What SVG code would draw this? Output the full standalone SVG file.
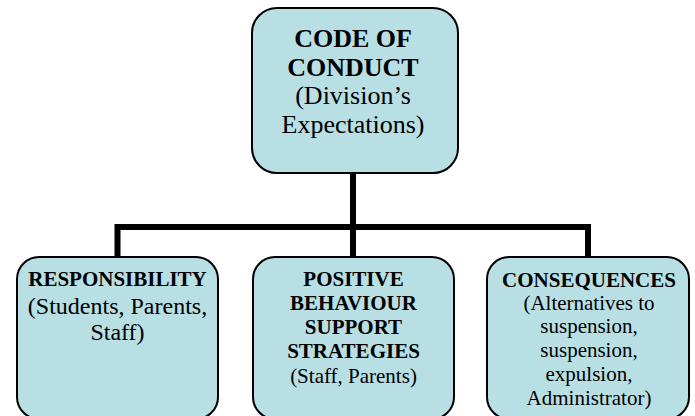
<svg xmlns="http://www.w3.org/2000/svg" width="695" height="416" viewBox="0 0 695 416">
<style>
.box{fill:#B8DFE3;stroke:#000;stroke-width:2}
.con{fill:none;stroke:#000;stroke-width:6;stroke-linejoin:miter;stroke-linecap:butt}
.t{fill:#000;text-anchor:middle}
.b{font-weight:bold}
</style>
<rect width="695" height="416" fill="#fff"/>
<g id="connectors">
<line class="con" x1="353" y1="173" x2="353" y2="257"/>
<polyline class="con" points="117.5,257 117.5,227 588,227 588,257"/>
</g>
<g font-family="'Liberation Serif', 'Times New Roman', 'DejaVu Serif', serif">
<g id="code-of-conduct">
<rect class="box" x="252" y="8" width="206" height="165" rx="25"/>
<text class="t b" x="353" y="47" font-size="26">CODE OF</text>
<text class="t b" x="353" y="75.7" font-size="26">CONDUCT</text>
<text class="t" x="353" y="104.3" font-size="26">(Division’s</text>
<text class="t" x="353" y="133" font-size="26">Expectations)</text>
</g>
<g id="responsibility">
<rect class="box" x="17" y="257" width="201" height="162" rx="22"/>
<text class="t b" x="117.5" y="286" font-size="21">RESPONSIBILITY</text>
<text class="t" x="117.5" y="314" font-size="24">(Students, Parents,</text>
<text class="t" x="117.5" y="340" font-size="24">Staff)</text>
</g>
<g id="positive-behaviour">
<rect class="box" x="253" y="257" width="201" height="162" rx="22"/>
<text class="t b" x="353.5" y="286" font-size="21">POSITIVE</text>
<text class="t b" x="353.5" y="310" font-size="21">BEHAVIOUR</text>
<text class="t b" x="353.5" y="334" font-size="21">SUPPORT</text>
<text class="t b" x="353.5" y="358" font-size="21">STRATEGIES</text>
<text class="t" x="353.5" y="383" font-size="21">(Staff, Parents)</text>
</g>
<g id="consequences">
<rect class="box" x="487" y="257" width="202" height="162" rx="22"/>
<text class="t b" x="589" y="287" font-size="21">CONSEQUENCES</text>
<text class="t" x="589" y="310" font-size="21">(Alternatives to</text>
<text class="t" x="589" y="333" font-size="21">suspension,</text>
<text class="t" x="589" y="357" font-size="21">suspension,</text>
<text class="t" x="589" y="381" font-size="21">expulsion,</text>
<text class="t" x="589" y="405" font-size="21">Administrator)</text>
</g>
</g>
</svg>
